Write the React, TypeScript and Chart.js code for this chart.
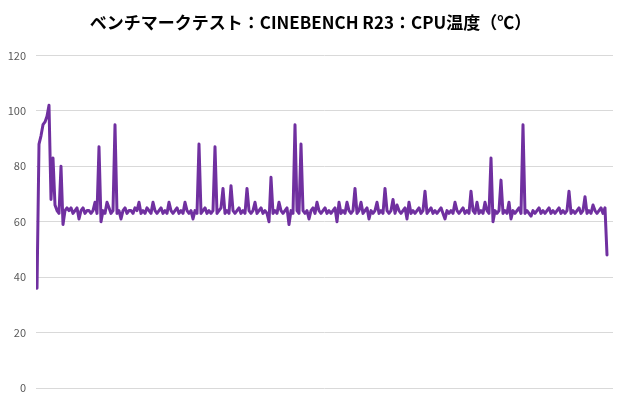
import { useRef, useEffect } from 'react';
import Chart from 'chart.js/auto';

// CPU temperature (°C), one reading per sample through the run
const cpuTemp = [
  36, 88, 91, 95, 96, 98, 102, 68, 83, 66, 64, 63, 80, 59, 64, 65, 64, 65, 63, 64,
  65, 61, 64, 65, 63, 64, 64, 63, 64, 67, 63, 87, 60, 64, 63, 67, 65, 63, 64, 95,
  63, 64, 61, 64, 65, 63, 64, 64, 63, 65, 64, 67, 63, 64, 63, 65, 64, 63, 67, 64,
  63, 64, 65, 63, 64, 63, 67, 64, 63, 64, 65, 63, 64, 63, 67, 64, 63, 64, 61, 64,
  63, 88, 63, 64, 65, 63, 64, 63, 64, 87, 63, 64, 65, 72, 63, 64, 63, 73, 64, 63,
  64, 65, 63, 64, 63, 72, 64, 63, 64, 67, 63, 64, 65, 63, 64, 63, 60, 76, 63, 64,
  63, 67, 64, 63, 64, 65, 59, 64, 63, 95, 64, 63, 88, 64, 63, 64, 61, 64, 65, 63,
  67, 64, 63, 64, 65, 63, 64, 63, 64, 65, 60, 67, 63, 64, 63, 67, 64, 63, 64, 72,
  63, 64, 67, 63, 64, 65, 61, 64, 63, 64, 67, 63, 64, 63, 72, 64, 63, 64, 68, 63,
  66, 64, 63, 64, 65, 61, 67, 63, 64, 63, 64, 65, 63, 64, 71, 63, 64, 65, 63, 64,
  63, 64, 65, 63, 61, 64, 63, 64, 63, 67, 64, 63, 64, 65, 63, 64, 63, 71, 64, 63,
  67, 63, 64, 63, 67, 64, 63, 83, 60, 64, 63, 64, 75, 63, 64, 63, 67, 61, 64, 63,
  64, 65, 63, 95, 63, 64, 63, 62, 64, 63, 64, 65, 63, 64, 63, 64, 65, 63, 64, 63,
  64, 65, 63, 64, 63, 64, 71, 63, 64, 63, 64, 65, 63, 64, 69, 63, 64, 63, 66, 64,
  63, 64, 65, 63, 65, 48,
];

// sample number for each reading
const samples = cpuTemp.map((_, i) => i);

const yTicks = [0, 20, 40, 60, 80, 100, 120];

const title = 'ベンチマークテスト：CINEBENCH R23：CPU温度（℃）';

export default function App() {
  const canvasRef = useRef<HTMLCanvasElement>(null);
  const chartRef = useRef<Chart | null>(null);

  useEffect(() => {
    if (!canvasRef.current) return;
    if (chartRef.current) chartRef.current.destroy();

    chartRef.current = new Chart(canvasRef.current, {
      type: 'line',
      data: {
        labels: samples,
        datasets: [
          {
            data: cpuTemp,
            borderColor: '#7030A0',
            borderWidth: 3,
            borderJoinStyle: 'round',
            borderCapStyle: 'round',
            pointRadius: 0,
            tension: 0,
            fill: false,
          },
        ],
      },
      options: {
        animation: false,
        responsive: true,
        maintainAspectRatio: false,
        layout: { padding: { top: 4, left: 8, right: 7, bottom: 14 } },
        plugins: {
          legend: { display: false },
          tooltip: { enabled: false },
          title: {
            display: true,
            text: title,
            color: '#000000',
            font: { family: '"Noto Sans CJK JP", sans-serif', size: 17, weight: 'bold' },
            padding: { top: 8, bottom: 23 },
          },
        },
        scales: {
          x: {
            type: 'linear',
            min: -0.5,
            max: cpuTemp.length + 2,
            ticks: { display: false },
            grid: { display: false },
            border: { display: false },
          },
          y: {
            min: yTicks[0],
            max: yTicks[yTicks.length - 1],
            afterBuildTicks: (axis) => {
              axis.ticks = yTicks.map(v => ({ value: v }));
            },
            afterFit: (axis) => {
              axis.width = 28;
            },
            ticks: {
              color: '#595959',
              padding: 10,
              font: { family: '"Noto Sans CJK JP", sans-serif', size: 11 },
            },
            grid: { color: '#d9d9d9', drawTicks: false },
            border: { display: false },
          },
        },
      },
    });

    return () => {
      if (chartRef.current) {
        chartRef.current.destroy();
        chartRef.current = null;
      }
    };
  }, []);

  return (
    <div style={{ position: 'fixed', left: 0, top: 0, width: 620, height: 410, background: '#ffffff' }}>
      <canvas ref={canvasRef}></canvas>
    </div>
  );
}
